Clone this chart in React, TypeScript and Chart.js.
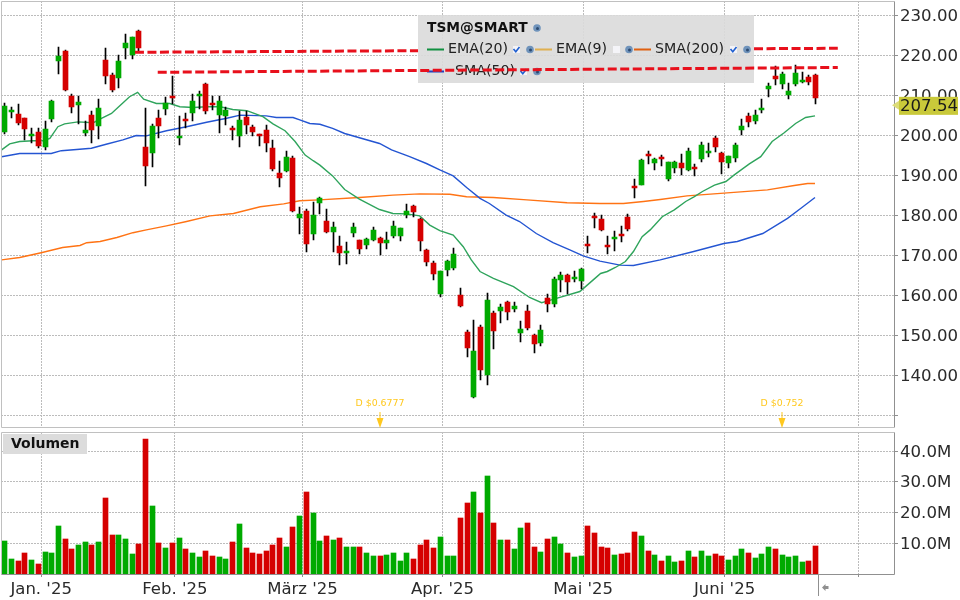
import React, { useEffect, useRef } from "react";
import { Chart, registerables } from "chart.js";

Chart.register(...registerables);

const opens = [200.9,205.9,205.4,204.4,199.9,200.9,197.1,204.1,218.6,221.1,209.9,207.6,200.6,205.1,202.4,218.9,215.1,214.4,221.9,220.1,226.1,197.1,195.6,204.4,206.6,209.9,199.4,204.1,205.6,209.9,212.9,208.1,205.1,204.9,201.9,199.9,204.6,202.1,200.4,201.4,196.9,190.6,191.1,194.5,179.4,181.1,175.4,183.1,178.6,175.9,172.4,170.6,175.6,173.9,172.6,173.9,174.4,173.1,174.9,174.9,180.1,182.4,179.1,171.4,168.1,160.4,166.4,166.9,160.1,150.9,134.6,152.1,140.1,155.6,156.1,158.4,156.6,150.6,156.1,150.1,148.1,159.4,157.9,163.9,165.1,164.1,163.6,172.9,179.9,179.1,172.6,174.1,175.4,179.6,187.4,187.6,195.4,193.1,194.6,189.1,191.9,193.1,191.4,192.1,194.1,195.6,199.4,195.6,193.1,194.4,201.4,204.9,203.6,206.4,211.6,214.9,212.9,210.1,212.9,213.4,214.6,215.1];
const closes = [207.4,206.4,203.2,201.6,200.4,197.4,201.6,208.6,219.9,211.4,207.1,208.4,201.4,201.4,206.9,214.9,211.4,218.6,223.1,224.6,221.9,192.4,202.4,202.4,208.1,209.4,199.9,203.6,208.6,210.4,206.1,207.6,208.6,206.4,201.4,203.9,202.6,200.9,199.9,198.1,191.6,189.4,194.6,181.1,180.5,172.9,180.1,184.4,175.9,177.1,170.6,171.1,177.1,171.6,174.1,176.4,173.1,173.9,177.4,176.9,181.1,180.9,173.6,168.4,165.4,166.1,168.6,170.4,157.4,146.9,146.1,141.4,158.9,151.1,157.1,155.9,157.4,151.6,151.9,147.9,151.4,157.9,164.1,165.1,163.4,164.6,166.6,172.4,179.4,176.4,172.1,174.6,174.9,176.6,186.9,193.9,194.9,194.1,194.1,193.4,193.4,191.9,196.1,191.6,197.6,196.1,197.1,193.4,194.9,197.6,202.4,203.4,205.1,206.9,212.4,214.1,215.4,211.1,215.6,213.9,213.4,209.4];
const highs = [208.2,207.2,208.0,204.4,201.9,201.9,203.6,208.9,222.1,221.4,210.4,209.9,203.6,206.1,209.1,221.9,215.6,220.1,225.4,224.6,226.4,206.9,202.9,206.4,209.6,214.9,204.9,205.6,210.4,211.1,213.1,209.9,209.9,207.1,202.4,206.1,206.1,202.6,200.4,202.6,198.9,193.6,196.1,194.8,182.1,181.6,183.4,184.6,181.6,178.4,174.9,173.4,178.1,173.9,174.4,177.1,174.6,175.9,178.6,176.9,182.9,182.6,179.4,171.6,168.6,166.1,168.9,171.9,161.9,151.4,153.9,152.6,160.6,156.1,157.9,158.6,158.4,153.6,157.6,150.4,152.6,160.4,164.6,165.9,165.4,166.1,166.9,174.9,180.6,180.1,174.9,176.1,177.4,180.4,189.1,194.1,196.1,194.4,195.1,193.4,193.6,195.4,196.9,192.9,198.4,198.1,199.9,195.9,194.9,198.1,204.1,205.6,206.4,209.1,213.1,217.4,215.9,213.1,217.6,215.9,215.1,215.4];
const lows = [200.5,204.4,202.7,198.9,198.2,197.0,196.4,203.4,215.4,211.1,205.6,202.9,199.9,198.1,199.1,212.9,210.9,211.9,219.1,219.1,221.1,187.4,192.1,199.4,205.1,207.9,197.6,201.9,203.6,206.6,205.4,206.4,200.6,202.6,198.9,197.1,200.4,199.9,197.4,195.9,191.1,187.1,191.0,180.9,175.4,170.9,173.9,180.4,175.6,170.9,167.6,167.9,174.6,170.4,171.6,173.6,170.1,171.6,174.4,173.6,179.4,179.6,171.1,167.4,163.9,159.6,164.9,166.4,157.1,144.6,134.4,138.9,137.6,146.6,153.1,153.9,155.9,148.4,151.4,145.6,147.4,155.9,157.1,160.9,160.4,163.4,161.6,170.6,176.9,176.1,170.4,171.1,173.4,176.1,184.4,187.6,192.9,191.4,192.4,188.6,190.6,190.1,191.1,189.9,193.4,194.6,195.9,190.4,191.9,193.4,200.1,202.1,202.9,205.6,209.6,212.6,211.6,209.1,212.4,213.1,212.6,207.9];
const volumes = [10.8,5.0,4.3,6.9,4.7,3.4,7.3,6.9,15.7,11.5,8.2,9.5,10.5,9.5,10.5,24.8,12.8,12.8,11.5,6.6,9.9,44.0,22.2,10.2,8.6,10.2,11.8,8.2,6.9,5.6,7.6,6.0,5.6,5.0,10.5,16.4,8.6,6.9,6.6,7.6,9.5,11.8,8.9,15.4,19.0,26.8,19.9,10.8,12.5,11.2,11.8,8.9,8.9,8.9,6.9,6.0,6.0,6.3,6.9,4.3,6.9,5.0,9.5,11.2,8.6,12.1,6.0,6.0,18.3,23.2,26.8,19.9,32.0,16.7,11.2,11.2,8.2,15.1,16.7,8.9,7.3,11.5,12.1,9.9,6.9,5.6,6.0,15.7,13.4,8.9,8.6,6.3,6.6,6.9,13.8,12.5,7.6,6.3,4.3,6.0,4.0,4.3,7.6,5.6,7.6,6.0,6.6,6.0,4.7,6.0,8.2,6.9,5.3,6.6,8.9,8.2,6.3,5.6,6.0,4.0,4.3,9.2];

const ema20Days = [-0.4,0.8,2.3,4.3,5.8,6.8,8,9,11,13.3,14.5,16,17.2,18.7,19.9,20.8,22.7,24.7,26.2,28.2,30.2,32.2,34.1,36.2,38.6,40.1,41.9,43.4,44.9,46.1,47.1,49,50.8,53,56,58,60,62,63.5,65,67,68.5,69.7,71,73,76,78.4,80.2,82.4,85.9,87.9,89,90,91.2,92.7,93.9,95.2,96.4,98.2,100,101.7,103,104.2,106,107.7,108.9,111.2,112.9,114.6,116.4,118.1,119.6,121];
const ema20Values = [196.4,197.9,198.5,198.7,198.7,199.3,202.2,202.9,203.4,203.2,204.3,205.5,207.4,209.7,210.8,209.1,208,208,207.2,207,207.2,207.2,206.5,206.2,204.7,202.9,201.2,198.5,195.1,193.7,192.6,189.9,186.5,184.1,181.5,180.5,180.4,179.9,177.6,176.2,175.1,172.2,168.9,166,164.3,162.2,159.5,158.2,159.3,161,163.9,165.5,166,167,168.5,171,174.7,176.4,179.7,181.4,183.5,184.7,186,187.6,188.5,190.1,192.9,194.7,198.5,200.7,203,204.5,204.9];
const sma50Days = [-0.4,2.3,7,8.5,10.8,13,15.2,17.7,19.7,21.2,24.2,27.2,30.2,33.2,35.2,39.1,40.6,43.1,44.1,45.6,47.1,49,50.8,56,57.8,60.5,63,65,67,69,71,72.4,74.9,76.9,79.4,81.9,84.4,86.4,88.9,91.9,93.9,97.9,102.9,107.4,109.4,113.2,116.9,118.9,121];
const sma50Values = [194.7,195.5,195.5,196.2,196.5,196.8,197.8,198.9,200,199.9,201.2,202.2,203.3,204.3,205.1,204.9,204.5,204.5,203.9,203,202.8,201.8,200.5,198,196.4,194.7,193,191.4,189.9,187,184.3,183,180.1,178.5,175.5,173.2,171.4,169.9,168.6,167.6,167.5,168.9,171,173,173.5,175.5,179.3,181.8,184.5];
const sma200Days = [-0.4,2.3,5.5,8.7,11.3,12.3,14.3,16.8,19.2,21.2,24.2,27.2,30.7,34.2,38.2,41.7,44.1,47,53,58,62,66.5,69,73,78,84,88.9,92.4,95.4,97.9,101.9,105.9,109.9,113.9,117.9,119.9,121];
const sma200Values = [168.9,169.5,170.7,172,172.5,173.2,173.5,174.5,175.7,176.4,177.4,178.5,179.9,180.5,182.2,182.9,183.7,183.9,184.5,185.1,185.4,185.3,184.7,184.5,183.9,183.2,183,183,183.5,184,184.9,185.4,185.9,186.4,187.5,188,188];

const trendUpperLeftDays = [19.5, 61.75];
const trendUpperLeftValues = [220.8, 221.2];
const trendUpperRightDays = [111.9, 124.4];
const trendUpperRightValues = [221.7, 221.8];
const trendLowerDays = [22.9, 124.4];
const trendLowerValues = [215.8, 217.0];

const priceTicks = [130,140,150,160,170,180,190,200,210,220,230];
const volumeTicks = [10,20,30,40];
const monthTickDays = [5.5,25.45,44.5,65.4,86.4,107.5,127.5];
const monthLabels = ["Jan. '25","Feb. '25","März '25","Apr. '25","Mai '25","Juni '25",""];
const dividendDays = [56, 116];
const dividendLabels = ["D $0.6777", "D $0.752"];
const lastPrice = 207.54;
const lastBarDay = 121.5;

const FONT = '"DejaVu Sans"';
const GREEN = "#00aa00";
const RED = "#d50000";
const GRID = "#bcbcbc";
const xMin = -0.4925;
const xMax = 132.79;

const candleColors = opens.map((o, i) => (closes[i] >= o ? GREEN : RED));
const xy = (days: number[], values: number[]) => days.map((d, i) => ({ x: d, y: values[i] }));

const snapBars = {
  id: "snapBars",
  afterDatasetsUpdate(chart: any) {
    chart.data.datasets.forEach((d: any, i: number) => {
      const meta = chart.getDatasetMeta(i);
      if (meta.type !== "bar") return;
      meta.data.forEach((el: any) => {
        el.x = Math.round(el.x) + 0.5;
        el.y = Math.round(el.y);
        el.base = Math.round(el.base);
        if (el.y === el.base) el.y -= 1;
      });
    });
  },
};

const frame = {
  id: "frame",
  afterDraw(chart: any) {
    const { ctx, chartArea: a } = chart;
    ctx.save();
    ctx.lineWidth = 1;
    ctx.strokeStyle = "#c0c0c0";
    ctx.beginPath();
    ctx.moveTo(1.5, Math.floor(a.bottom) + 0.5);
    ctx.lineTo(1.5, Math.floor(a.top) + 0.5);
    ctx.lineTo(894.5, Math.floor(a.top) + 0.5);
    ctx.stroke();
    ctx.strokeStyle = "#909090";
    ctx.beginPath();
    ctx.moveTo(894.5, Math.floor(a.top) + 0.5);
    ctx.lineTo(894.5, Math.floor(a.bottom) + 0.5);
    ctx.stroke();
    ctx.strokeStyle = chart.canvas.dataset.panel === "volume" ? "#909090" : "#c0c0c0";
    ctx.beginPath();
    ctx.moveTo(1.5, Math.floor(a.bottom) + 0.5);
    ctx.lineTo(894.5, Math.floor(a.bottom) + 0.5);
    ctx.stroke();
    ctx.restore();
  },
};

function gear(ctx: any, x: number, y: number) {
  ctx.fillStyle = "#6f93bb";
  ctx.beginPath();
  ctx.arc(x, y, 3.8, 0, Math.PI * 2);
  ctx.fill();
  ctx.fillStyle = "#2c4a70";
  ctx.beginPath();
  ctx.arc(x + 0.5, y + 0.5, 1.5, 0, Math.PI * 2);
  ctx.fill();
}

function checkbox(ctx: any, x: number, y: number, checked: boolean) {
  ctx.fillStyle = "#f4f4f8";
  ctx.fillRect(x, y, 7, 7);
  if (checked) {
    ctx.strokeStyle = "#1f5fd0";
    ctx.lineWidth = 1.6;
    ctx.beginPath();
    ctx.moveTo(x + 0.5, y + 3);
    ctx.lineTo(x + 2.8, y + 5.8);
    ctx.lineTo(x + 6.5, y + 1);
    ctx.stroke();
  }
}

const legendBox = {
  id: "legendBox",
  beforeDatasetsDraw(chart: any) {
    const { ctx } = chart;
    ctx.save();
    ctx.fillStyle = "rgba(218,218,218,0.9)";
    ctx.fillRect(418, 15, 336, 68);
    ctx.textBaseline = "middle";
    ctx.fillStyle = "#111";
    ctx.font = `bold 13.8px ${FONT}`;
    ctx.fillText("TSM@SMART", 427, 28);
    gear(ctx, 537, 28);
    const items = [
      { label: "EMA(20)", color: "#109040", sx: 427, sw: 17, tx: 448, cx: 513, on: true, gx: 530, y: 49.5 },
      { label: "EMA(9)", color: "#e0b050", sx: 535, sw: 17, tx: 556, cx: 613, on: false, gx: 629, y: 49.5 },
      { label: "SMA(200)", color: "#e06010", sx: 634, sw: 17, tx: 655, cx: 730, on: true, gx: 747, y: 49.5 },
      { label: "SMA(50)", color: "#2040c0", sx: 427, sw: 17, tx: 455, cx: 520, on: true, gx: 537, y: 71.5 },
    ];
    items.forEach((it) => {
      ctx.fillStyle = it.color;
      ctx.fillRect(it.sx, it.y - 1, it.sw, 2);
      ctx.fillStyle = "#222";
      ctx.font = `14.2px ${FONT}`;
      ctx.fillText(it.label, it.tx, it.y);
      checkbox(ctx, it.cx, it.y - 3.5, it.on);
      gear(ctx, it.gx, it.y);
    });
    ctx.restore();
  },
};

const priceDecor = {
  id: "priceDecor",
  afterDraw(chart: any) {
    const { ctx, scales } = chart;
    ctx.save();
    ctx.textBaseline = "middle";
    ctx.textAlign = "center";
    dividendDays.forEach((d, i) => {
      const x = Math.round(scales.x.getPixelForValue(d));
      ctx.font = `9.4px ${FONT}`;
      ctx.fillStyle = "#ffc81e";
      ctx.fillText(dividendLabels[i], x, 404);
      ctx.fillRect(x - 0.5, 412, 1, 7);
      ctx.beginPath();
      ctx.moveTo(x - 3.5, 418);
      ctx.lineTo(x + 3.5, 418);
      ctx.lineTo(x, 428);
      ctx.closePath();
      ctx.fill();
    });
    const y = scales.y.getPixelForValue(lastPrice);
    ctx.fillStyle = "#dcdc78";
    ctx.beginPath();
    ctx.moveTo(892, y);
    ctx.lineTo(899, y - 4.5);
    ctx.lineTo(899, y + 4.5);
    ctx.closePath();
    ctx.fill();
    ctx.fillStyle = "#c9c93a";
    ctx.fillRect(899, y - 8.5, 59, 18);
    ctx.fillStyle = "#1a1a1a";
    ctx.textAlign = "left";
    ctx.font = `16.6px ${FONT}`;
    ctx.fillText(lastPrice.toFixed(2), 900, y + 1);
    ctx.restore();
  },
};

const volumeDecor = {
  id: "volumeDecor",
  afterDraw(chart: any) {
    const { ctx, scales, chartArea: a } = chart;
    ctx.save();
    ctx.fillStyle = "#dcdcdc";
    ctx.fillRect(3, 4, 84, 20);
    ctx.fillStyle = "#111";
    ctx.font = `bold 14px ${FONT}`;
    ctx.textBaseline = "middle";
    ctx.fillText("Volumen", 11, 14.5);
    const x = Math.round(scales.x.getPixelForValue(lastBarDay)) + 0.5;
    ctx.strokeStyle = "#909090";
    ctx.lineWidth = 1;
    ctx.beginPath();
    ctx.moveTo(x, a.bottom);
    ctx.lineTo(x, 166);
    ctx.stroke();
    ctx.fillStyle = "#909090";
    ctx.beginPath();
    ctx.moveTo(x + 3.5, 157.5);
    ctx.lineTo(x + 7, 154);
    ctx.lineTo(x + 7, 156);
    ctx.lineTo(x + 10, 156);
    ctx.lineTo(x + 10, 159);
    ctx.lineTo(x + 7, 159);
    ctx.lineTo(x + 7, 161);
    ctx.closePath();
    ctx.fill();
    ctx.restore();
  },
};

const zeroPadding = (s: any) => {
  s.paddingTop = 0;
  s.paddingBottom = 0;
  s.paddingLeft = 0;
  s.paddingRight = 0;
};

const xAxis = (showLabels: boolean) => ({
  type: "linear",
  offset: false,
  min: xMin,
  max: xMax,
  afterBuildTicks: (s: any) => {
    s.ticks = monthTickDays.map((v) => ({ value: v }));
  },
  afterFit: (s: any) => {
    s.height = showLabels ? 26 : 2.5;
    zeroPadding(s);
  },
  grid: {
    display: true,
    offset: false,
    color: GRID,
    lineWidth: 1,
    drawTicks: showLabels,
    tickLength: 3,
    tickColor: "#909090",
    tickBorderDash: [],
  },
  border: { display: false, dash: [2, 1] },
  ticks: {
    display: showLabels,
    autoSkip: false,
    maxRotation: 0,
    minRotation: 0,
    padding: 3,
    color: "#2a2a2a",
    font: { family: FONT, size: 16.5 },
    callback: (_: any, i: number) => monthLabels[i],
  },
});

const yAxis = (min: number, max: number, ticks: number[], fmt: (v: number) => string) => ({
  type: "linear",
  position: "right",
  min,
  max,
  afterBuildTicks: (s: any) => {
    s.ticks = ticks.map((v) => ({ value: v }));
  },
  afterFit: (s: any) => {
    s.width = 66;
    zeroPadding(s);
  },
  grid: {
    display: true,
    color: GRID,
    lineWidth: 1,
    tickLength: 4,
    tickColor: "#909090",
    tickBorderDash: [],
  },
  border: { display: false, dash: [2, 1] },
  ticks: {
    autoSkip: false,
    padding: 2,
    labelOffset: 1,
    color: "#2a2a2a",
    font: { family: FONT, size: 16.6 },
    callback: (v: number) => fmt(v),
  },
});

const lineSet = (data: any[], color: string) => ({
  type: "line",
  data,
  borderColor: color,
  borderWidth: 1.4,
  pointRadius: 0,
  tension: 0,
  fill: false,
});

const dashedSet = (data: any[]) => ({
  type: "line",
  data,
  borderColor: "#e8101c",
  borderWidth: 3,
  borderDash: [9, 3.5],
  pointRadius: 0,
  tension: 0,
  fill: false,
  clip: false,
});

const baseOptions = {
  animation: false,
  responsive: false,
  events: [],
  plugins: { legend: { display: false }, tooltip: { enabled: false } },
};

export default function App() {
  const priceRef = useRef<HTMLCanvasElement | null>(null);
  const volumeRef = useRef<HTMLCanvasElement | null>(null);

  useEffect(() => {
    const price = new Chart(priceRef.current as any, {
      type: "bar",
      data: {
        datasets: [
          dashedSet(xy(trendUpperLeftDays, trendUpperLeftValues)),
          dashedSet(xy(trendUpperRightDays, trendUpperRightValues)),
          dashedSet(xy(trendLowerDays, trendLowerValues)),
          {
            type: "bar",
            grouped: false,
            barThickness: 5,
            data: opens.map((o, i) => ({ x: i, y: [o, closes[i]] })),
            backgroundColor: candleColors,
            borderWidth: 0,
          },
          {
            type: "bar",
            grouped: false,
            barThickness: 1,
            data: highs.map((h, i) => ({ x: i, y: [lows[i], h] })),
            backgroundColor: "#000000",
            borderWidth: 0,
          },
          lineSet(xy(ema20Days, ema20Values), "#2fa45c"),
          lineSet(xy(sma50Days, sma50Values), "#2455d2"),
          lineSet(xy(sma200Days, sma200Values), "#ff7314"),
        ] as any,
      },
      options: {
        ...baseOptions,
        layout: { padding: { left: 1, top: 1, right: 0, bottom: 0 } },
        scales: {
          x: xAxis(false),
          y: yAxis(127, 233.625, priceTicks, (v) => (v === 130 ? "" : v.toFixed(2))),
        },
      } as any,
      plugins: [snapBars, legendBox, frame, priceDecor],
    });

    const volume = new Chart(volumeRef.current as any, {
      type: "bar",
      data: {
        datasets: [
          {
            type: "bar",
            grouped: false,
            barThickness: 5,
            data: volumes.map((v, i) => ({ x: i, y: v })),
            backgroundColor: candleColors,
            borderWidth: 0,
          },
        ] as any,
      },
      options: {
        ...baseOptions,
        layout: { padding: { left: 1, top: 2, right: 0, bottom: 0 } },
        scales: {
          x: xAxis(true),
          y: yAxis(0, 46.3, volumeTicks, (v) => `${v.toFixed(1)}M`),
        },
      } as any,
      plugins: [snapBars, frame, volumeDecor],
    });

    return () => {
      price.destroy();
      volume.destroy();
    };
  }, []);

  return (
    <div style={{ position: "fixed", left: 0, top: 0, width: 960, height: 600, background: "#fff", overflow: "hidden" }}>
      <canvas
        ref={priceRef}
        data-panel="price"
        width={960}
        height={430}
        style={{ position: "absolute", left: 0, top: 0, width: 960, height: 430 }}
      />
      <canvas
        ref={volumeRef}
        data-panel="volume"
        width={960}
        height={170}
        style={{ position: "absolute", left: 0, top: 430, width: 960, height: 170 }}
      />
    </div>
  );
}
